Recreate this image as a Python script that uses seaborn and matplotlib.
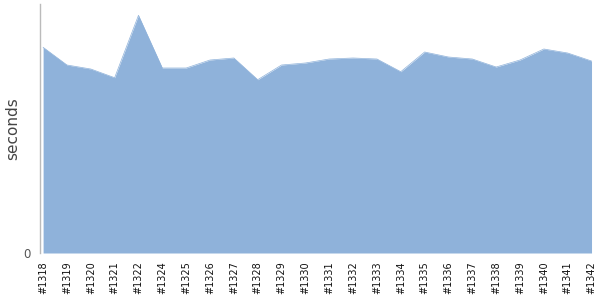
import matplotlib
matplotlib.use("Agg")
import matplotlib.pyplot as plt
import seaborn as sns
import pandas as pd

builds = ["#1318", "#1319", "#1320", "#1321", "#1322", "#1324", "#1325", "#1326",
          "#1327", "#1328", "#1329", "#1330", "#1331", "#1332", "#1333", "#1334",
          "#1335", "#1336", "#1337", "#1338", "#1339", "#1340", "#1341", "#1342"]
seconds = [205.7, 188, 184, 175.3, 237.7, 185, 185, 193,
           195, 173.3, 188, 190, 194, 195, 194, 181.3,
           201, 196, 194, 186, 193, 204, 200, 192]

df = pd.DataFrame({"build": builds, "seconds": seconds})
df["pos"] = range(len(df))

sns.set_style("white")
fig = plt.figure(figsize=(6, 3), dpi=100)
ax = fig.add_axes([40/600, 1-253/300, 552/600, 249/300])

sns.lineplot(data=df, x="pos", y="seconds", ax=ax, color="#8FB2DA", linewidth=0.5)
ax.fill_between(df["pos"], df["seconds"], 0, color="#8FB2DA", linewidth=0)

ax.set_xlim(-0.13, len(df) - 1 + 0.02)
ax.set_ylim(0, 249)
ax.set_xticks(df["pos"])
ax.set_xticklabels(df["build"], rotation=90, fontsize=7, color="#111111")
ax.set_yticks([0])
ax.set_yticklabels(["0"], fontsize=8.5, color="#555555")
ax.set_xlabel("")
ax.set_ylabel("seconds", fontsize=11, color="#444444")
ax.yaxis.set_label_coords(-27/552, 0.5)
ax.yaxis.label.set_va("center")
ax.tick_params(axis="x", length=4, width=0.8, color="#aaaaaa", pad=2)
ax.tick_params(axis="y", length=6, width=0.8, color="#aaaaaa", pad=1)

for s in ["top", "right", "bottom"]:
    ax.spines[s].set_visible(False)
ax.spines["left"].set_color("#bbbbbb")
ax.spines["left"].set_linewidth(1)

fig.savefig("out.png", dpi=100)
